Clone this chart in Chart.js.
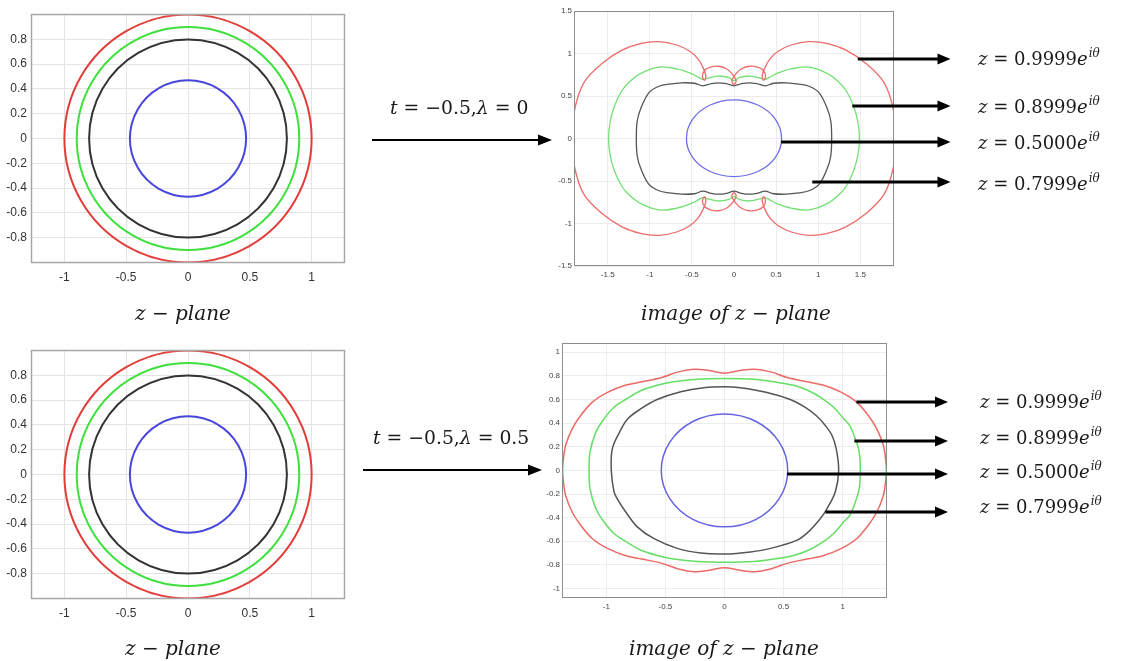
<!DOCTYPE html>
<html>
<head>
<meta charset="utf-8">
<script src="https://cdn.jsdelivr.net/npm/chart.js@4.4.1/dist/chart.umd.min.js"></script>
<style>
  html, body { margin: 0; padding: 0; background: #fff; }
  body { width: 1123px; height: 661px; position: relative; overflow: hidden; color: #1a1a1a; }
  .panel { position: absolute; }
  .panel canvas { display: block; }
  .txt { position: absolute; font-family: "DejaVu Serif", serif; white-space: nowrap; line-height: 1; transform: translateY(-50%); }
  .cap { font-style: italic; font-size: 20px; }
  .eq { font-size: 18px; }
  .eq.mid { font-size: 18.8px; }
  .eq i { font-style: italic; }
  .eq sup { font-size: 12px; font-style: italic; vertical-align: 0; position: relative; top: -8px; margin-left: 1px; }
  svg { position: absolute; left: 0; top: 0; pointer-events: none; }
</style>
</head>
<body>

<div class="panel" style="left:0;top:0;width:346px;height:285px"><canvas id="zPlaneTop"></canvas></div>
<div class="panel" style="left:545px;top:0;width:410px;height:285px"><canvas id="imageTop"></canvas></div>
<div class="panel" style="left:0;top:336px;width:346px;height:285px"><canvas id="zPlaneBottom"></canvas></div>
<div class="panel" style="left:535px;top:336px;width:420px;height:285px"><canvas id="imageBottom"></canvas></div>

<svg width="1123" height="661">
  <line x1="372" y1="140" x2="540" y2="140" stroke="#000" stroke-width="2"/>
  <polygon points="552,140 538,134.5 538,145.5" fill="#000"/>
  <line x1="363" y1="470" x2="530" y2="470" stroke="#000" stroke-width="2"/>
  <polygon points="542,470 528,464.5 528,475.5" fill="#000"/>
</svg>

<!-- parameter labels -->
<div class="txt eq mid" style="left:390px;top:108px"><i>t</i> = −0.5,<i>λ</i> = 0</div>
<div class="txt eq mid" style="left:373px;top:438px"><i>t</i> = −0.5,<i>λ</i> = 0.5</div>

<!-- curve labels, top row -->
<div class="txt eq" style="left:978px;top:59px"><i>z</i> = 0.9999<i>e</i><sup>iθ</sup></div>
<div class="txt eq" style="left:978px;top:107px"><i>z</i> = 0.8999<i>e</i><sup>iθ</sup></div>
<div class="txt eq" style="left:978px;top:143px"><i>z</i> = 0.5000<i>e</i><sup>iθ</sup></div>
<div class="txt eq" style="left:978px;top:184px"><i>z</i> = 0.7999<i>e</i><sup>iθ</sup></div>

<!-- curve labels, bottom row -->
<div class="txt eq" style="left:980px;top:402px"><i>z</i> = 0.9999<i>e</i><sup>iθ</sup></div>
<div class="txt eq" style="left:980px;top:438px"><i>z</i> = 0.8999<i>e</i><sup>iθ</sup></div>
<div class="txt eq" style="left:980px;top:472px"><i>z</i> = 0.5000<i>e</i><sup>iθ</sup></div>
<div class="txt eq" style="left:980px;top:507px"><i>z</i> = 0.7999<i>e</i><sup>iθ</sup></div>

<!-- captions -->
<div class="txt cap" style="left:135px;top:313px">z − plane</div>
<div class="txt cap" style="left:641px;top:313px">image of z − plane</div>
<div class="txt cap" style="left:125px;top:648px">z − plane</div>
<div class="txt cap" style="left:629px;top:648px">image of z − plane</div>

<script>
// ---- data ----

// z-plane circles (same in both rows)
const Z_RED   = [[1,0],[0.866,0.5],[0.5,0.866],[0,1],[-0.5,0.866],[-0.866,0.5],[-1,0],[-0.866,-0.5],[-0.5,-0.866],[0,-1],[0.5,-0.866],[0.866,-0.5]];
const Z_GREEN = [[0.9,0],[0.78,0.45],[0.45,0.78],[0,0.9],[-0.45,0.78],[-0.78,0.45],[-0.9,0],[-0.78,-0.45],[-0.45,-0.78],[0,-0.9],[0.45,-0.78],[0.78,-0.45]];
const Z_BLACK = [[0.8,0],[0.693,0.4],[0.4,0.693],[0,0.8],[-0.4,0.693],[-0.693,0.4],[-0.8,0],[-0.693,-0.4],[-0.4,-0.693],[0,-0.8],[0.4,-0.693],[0.693,-0.4]];
const Z_BLUE  = [[0.47,0],[0.407,0.235],[0.235,0.407],[0,0.47],[-0.235,0.407],[-0.407,0.235],[-0.47,0],[-0.407,-0.235],[-0.235,-0.407],[0,-0.47],[0.235,-0.407],[0.407,-0.235]];

// image curves, t = -0.5, lambda = 0
const W0_RED = [
  [1.92,0],[1.89,0.35],[1.78,0.66],[1.57,0.88],[1.33,1.04],[1.10,1.12],[0.89,1.14],[0.68,1.10],[0.53,1.03],[0.43,0.94],[0.37,0.84],
  [0.335,0.74],[0.35,0.685],[0.375,0.73],[0.35,0.80],[0.28,0.84],[0.18,0.85],[0.09,0.82],[0.03,0.77],
  [-0.025,0.68],[0,0.635],[0.025,0.68],
  [-0.03,0.77],[-0.09,0.82],[-0.18,0.85],[-0.28,0.84],[-0.35,0.80],[-0.375,0.73],[-0.35,0.685],[-0.335,0.74],
  [-0.37,0.84],[-0.43,0.94],[-0.53,1.03],[-0.68,1.10],[-0.89,1.14],[-1.10,1.12],[-1.33,1.04],[-1.57,0.88],[-1.78,0.66],[-1.89,0.35],
  [-1.92,0],
  [-1.89,-0.35],[-1.78,-0.66],[-1.57,-0.88],[-1.33,-1.04],[-1.10,-1.12],[-0.89,-1.14],[-0.68,-1.10],[-0.53,-1.03],[-0.43,-0.94],[-0.37,-0.84],
  [-0.335,-0.74],[-0.35,-0.685],[-0.375,-0.73],[-0.35,-0.80],[-0.28,-0.84],[-0.18,-0.85],[-0.09,-0.82],[-0.03,-0.77],
  [0.025,-0.68],[0,-0.635],[-0.025,-0.68],
  [0.03,-0.77],[0.09,-0.82],[0.18,-0.85],[0.28,-0.84],[0.35,-0.80],[0.375,-0.73],[0.35,-0.685],[0.335,-0.74],
  [0.37,-0.84],[0.43,-0.94],[0.53,-1.03],[0.68,-1.10],[0.89,-1.14],[1.10,-1.12],[1.33,-1.04],[1.57,-0.88],[1.78,-0.66],[1.89,-0.35]
];
const W0_GREEN = [
  [1.49,0],[1.47,0.2],[1.42,0.38],[1.34,0.55],[1.25,0.66],[1.10,0.77],[0.89,0.84],[0.68,0.82],[0.52,0.77],[0.42,0.72],
  [0.37,0.695],[0.31,0.71],[0.18,0.735],[0.06,0.715],[0,0.68],[-0.06,0.715],[-0.18,0.735],[-0.31,0.71],[-0.37,0.695],
  [-0.42,0.72],[-0.52,0.77],[-0.68,0.82],[-0.89,0.84],[-1.10,0.77],[-1.25,0.66],[-1.34,0.55],[-1.42,0.38],[-1.47,0.2],
  [-1.49,0],
  [-1.47,-0.2],[-1.42,-0.38],[-1.34,-0.55],[-1.25,-0.66],[-1.10,-0.77],[-0.89,-0.84],[-0.68,-0.82],[-0.52,-0.77],[-0.42,-0.72],
  [-0.37,-0.695],[-0.31,-0.71],[-0.18,-0.735],[-0.06,-0.715],[0,-0.68],[0.06,-0.715],[0.18,-0.735],[0.31,-0.71],[0.37,-0.695],
  [0.42,-0.72],[0.52,-0.77],[0.68,-0.82],[0.89,-0.84],[1.10,-0.77],[1.25,-0.66],[1.34,-0.55],[1.42,-0.38],[1.47,-0.2]
];
const W0_BLACK = [
  [1.16,0],[1.15,0.2],[1.11,0.345],[1.01,0.54],[0.89,0.615],[0.77,0.64],[0.62,0.655],[0.47,0.65],[0.37,0.62],[0.27,0.645],[0.18,0.655],[0.09,0.645],
  [0,0.62],
  [-0.09,0.645],[-0.18,0.655],[-0.27,0.645],[-0.37,0.62],[-0.47,0.65],[-0.62,0.655],[-0.77,0.64],[-0.89,0.615],[-1.01,0.54],[-1.11,0.345],[-1.15,0.2],
  [-1.16,0],
  [-1.15,-0.2],[-1.11,-0.345],[-1.01,-0.54],[-0.89,-0.615],[-0.77,-0.64],[-0.62,-0.655],[-0.47,-0.65],[-0.37,-0.62],[-0.27,-0.645],[-0.18,-0.655],[-0.09,-0.645],
  [0,-0.62],
  [0.09,-0.645],[0.18,-0.655],[0.27,-0.645],[0.37,-0.62],[0.47,-0.65],[0.62,-0.655],[0.77,-0.64],[0.89,-0.615],[1.01,-0.54],[1.11,-0.345],[1.15,-0.2]
];
const W0_BLUE = [[0.565,0],[0.49,0.228],[0.283,0.394],[0,0.455],[-0.283,0.394],[-0.49,0.228],[-0.565,0],[-0.49,-0.224],[-0.283,-0.388],[0,-0.448],[0.283,-0.388],[0.49,-0.224]];

// image curves, t = -0.5, lambda = 0.5
const W5_RED = [
  [1.37,0],[1.36,0.12],[1.345,0.21],[1.29,0.35],[1.22,0.46],[1.12,0.576],[0.99,0.66],[0.84,0.72],[0.70,0.75],[0.53,0.787],[0.39,0.834],[0.25,0.857],[0.13,0.845],
  [0,0.823],
  [-0.13,0.845],[-0.25,0.857],[-0.39,0.834],[-0.53,0.787],[-0.70,0.75],[-0.84,0.72],[-0.99,0.66],[-1.12,0.576],[-1.22,0.46],[-1.29,0.35],[-1.345,0.21],[-1.36,0.12],
  [-1.37,0],
  [-1.36,-0.12],[-1.345,-0.21],[-1.29,-0.35],[-1.22,-0.46],[-1.12,-0.576],[-0.99,-0.66],[-0.84,-0.72],[-0.70,-0.75],[-0.53,-0.787],[-0.39,-0.834],[-0.25,-0.857],[-0.13,-0.845],
  [0,-0.823],
  [0.13,-0.845],[0.25,-0.857],[0.39,-0.834],[0.53,-0.787],[0.70,-0.75],[0.84,-0.72],[0.99,-0.66],[1.12,-0.576],[1.22,-0.46],[1.29,-0.35],[1.345,-0.21],[1.36,-0.12]
];
const W5_GREEN = [
  [1.149,0],[1.14,0.155],[1.107,0.267],[1.06,0.38],[1.01,0.435],[0.924,0.534],[0.84,0.60],[0.713,0.674],[0.586,0.72],[0.417,0.75],[0.248,0.772],
  [0,0.778],
  [-0.23,0.772],[-0.43,0.75],[-0.57,0.72],[-0.71,0.674],[-0.837,0.60],[-0.935,0.534],[-1.02,0.435],[-1.09,0.32],[-1.138,0.155],
  [-1.146,0],
  [-1.138,-0.155],[-1.09,-0.32],[-1.02,-0.435],[-0.935,-0.534],[-0.837,-0.60],[-0.71,-0.674],[-0.57,-0.72],[-0.43,-0.75],[-0.23,-0.772],
  [0,-0.778],
  [0.248,-0.772],[0.417,-0.75],[0.586,-0.72],[0.713,-0.674],[0.84,-0.60],[0.924,-0.534],[1.01,-0.435],[1.06,-0.38],[1.107,-0.267],[1.14,-0.155]
];
const W5_BLACK = [
  [0.966,0],[0.946,0.18],[0.91,0.295],[0.853,0.38],[0.78,0.46],[0.684,0.534],[0.557,0.60],[0.36,0.66],[0.135,0.70],
  [0,0.708],
  [-0.175,0.70],[-0.37,0.666],[-0.57,0.60],[-0.71,0.52],[-0.82,0.435],[-0.89,0.32],[-0.95,0.18],
  [-0.958,0],
  [-0.935,-0.18],[-0.907,-0.24],[-0.837,-0.35],[-0.738,-0.478],[-0.6,-0.576],[-0.4,-0.66],[-0.2,-0.70],
  [0,-0.708],
  [0.22,-0.69],[0.39,-0.66],[0.614,-0.59],[0.71,-0.52],[0.81,-0.41],[0.868,-0.323],[0.938,-0.18]
];
const W5_BLUE = [[0.535,0],[0.463,0.239],[0.268,0.414],[0,0.478],[-0.268,0.414],[-0.463,0.239],[-0.535,0],[-0.463,-0.239],[-0.268,-0.414],[0,-0.478],[0.268,-0.414],[0.463,-0.239]];

// tick labels
const Z_X_TICKS = [-1, -0.5, 0, 0.5, 1];
const Z_Y_TICKS = [-0.8, -0.6, -0.4, -0.2, 0, 0.2, 0.4, 0.6, 0.8];
const W0_X_TICKS = [-1.5, -1, -0.5, 0, 0.5, 1, 1.5];
const W0_Y_TICKS = [-1.5, -1, -0.5, 0, 0.5, 1, 1.5];
const W5_X_TICKS = [-1, -0.5, 0, 0.5, 1];
const W5_Y_TICKS = [-1, -0.8, -0.6, -0.4, -0.2, 0, 0.2, 0.4, 0.6, 0.8, 1];

// where the label arrows leave each image curve (red, green, blue, black)
const W0_ARROW_FROM = [[1.47, 0.94], [1.405, 0.385], [0.56, -0.036], [0.93, -0.508]];
const W5_ARROW_FROM = [[1.116, 0.575], [1.099, 0.25], [0.53, -0.028], [0.854, -0.351]];

// ---- plugins ----
const framePlugin = {
  id: 'frame',
  afterDatasetsDraw(chart, args, opts) {
    const { ctx, chartArea: a } = chart;
    ctx.save();
    ctx.strokeStyle = opts.color || '#999';
    ctx.lineWidth = opts.width || 1;
    const l = Math.round(a.left) + 0.5, t = Math.round(a.top) + 0.5;
    ctx.strokeRect(l, t, Math.round(a.right) - Math.round(a.left) - 1, Math.round(a.bottom) - Math.round(a.top) - 1);
    ctx.restore();
  }
};

const arrowPlugin = {
  id: 'arrows',
  afterDraw(chart, args, opts) {
    if (!opts.from) return;
    const { ctx, scales: { x, y } } = chart;
    const tip = chart.chartArea.right + opts.reach;
    ctx.save();
    ctx.strokeStyle = '#000';
    ctx.fillStyle = '#000';
    ctx.lineWidth = 3;
    opts.from.forEach(([ax, ay]) => {
      const px = x.getPixelForValue(ax);
      const py = Math.round(y.getPixelForValue(ay));
      ctx.beginPath();
      ctx.moveTo(px, py);
      ctx.lineTo(tip - 12, py);
      ctx.stroke();
      ctx.beginPath();
      ctx.moveTo(tip, py);
      ctx.lineTo(tip - 13, py - 5.5);
      ctx.lineTo(tip - 13, py + 5.5);
      ctx.closePath();
      ctx.fill();
    });
    ctx.restore();
  }
};

// closed curve: wrap one point each side so the spline joins smoothly, hide the wrap segments
function loopData(pts) {
  const n = pts.length;
  return [pts[n - 1], ...pts, pts[0], pts[1]].map(([x, y]) => ({ x, y }));
}

function curve(pts, color, width) {
  const last = pts.length + 2;
  return {
    data: loopData(pts),
    showLine: true,
    borderColor: color,
    borderWidth: width,
    pointRadius: 0,
    tension: 0.35,
    segment: {
      borderColor: c => (c.p0DataIndex === 0 || c.p1DataIndex === last) ? 'rgba(0,0,0,0)' : undefined
    }
  };
}

function axis(min, max, ticks, fit, isX, look) {
  return {
    type: 'linear',
    min, max,
    bounds: 'data',
    afterBuildTicks: a => { a.ticks = ticks.map(v => ({ value: v })); },
    afterFit: a => { if (isX) a.height = fit; else a.width = fit; },
    grid: { color: look.grid, lineWidth: 1, drawTicks: false },
    border: { display: false },
    ticks: {
      autoSkip: false,
      maxRotation: 0,
      padding: isX ? look.xPad : look.yPad,
      color: look.tick,
      font: { family: 'Liberation Sans, Arial, sans-serif', size: look.size },
      callback: v => String(v)
    }
  };
}

function render(id, cfg) {
  const el = document.getElementById(id);
  if (!el || typeof Chart === 'undefined') return;
  new Chart(el, {
    type: 'scatter',
    data: { datasets: cfg.curves.map(([pts, color]) => curve(pts, color, cfg.lw)) },
    options: {
      responsive: true,
      maintainAspectRatio: false,
      animation: false,
      events: [],
      layout: { padding: { top: cfg.padTop, right: cfg.padRight, left: 0, bottom: 0 } },
      plugins: {
        legend: { display: false },
        tooltip: { enabled: false },
        frame: { color: cfg.look.frame, width: cfg.look.frameW },
        arrows: { from: cfg.arrows, reach: cfg.reach }
      },
      scales: {
        x: axis(cfg.x[0], cfg.x[1], cfg.xTicks, cfg.xAxisH, true, cfg.look),
        y: axis(cfg.y[0], cfg.y[1], cfg.yTicks, cfg.yAxisW, false, cfg.look)
      }
    },
    plugins: [framePlugin, arrowPlugin]
  });
}

const LOOK_Z = { grid: '#e4e4e4', tick: '#333', size: 12, xPad: 7, yPad: 4, frame: '#a6a6a6', frameW: 1.5 };
const LOOK_W = { grid: '#ececec', tick: '#444', size: 8, xPad: 4, yPad: 2, frame: '#8c8c8c', frameW: 1 };

const zCurves = [[Z_RED, '#e23c38'], [Z_GREEN, '#3ee03e'], [Z_BLACK, '#333333'], [Z_BLUE, '#4646dc']];

render('zPlaneTop', {
  curves: zCurves, lw: 2, look: LOOK_Z,
  x: [-1.27, 1.27], y: [-1.005, 1.005], xTicks: Z_X_TICKS, yTicks: Z_Y_TICKS,
  padTop: 14, padRight: 1, xAxisH: 22, yAxisW: 31
});
render('zPlaneBottom', {
  curves: zCurves, lw: 2, look: LOOK_Z,
  x: [-1.27, 1.27], y: [-1.005, 1.005], xTicks: Z_X_TICKS, yTicks: Z_Y_TICKS,
  padTop: 14, padRight: 1, xAxisH: 22, yAxisW: 31
});
render('imageTop', {
  curves: [[W0_RED, '#ec6c6a'], [W0_GREEN, '#72e072'], [W0_BLACK, '#555555'], [W0_BLUE, '#6e6ee6']],
  lw: 1.3, look: LOOK_W,
  x: [-1.9, 1.9], y: [-1.5, 1.5], xTicks: W0_X_TICKS, yTicks: W0_Y_TICKS,
  padTop: 11, padRight: 61, xAxisH: 19, yAxisW: 29,
  arrows: W0_ARROW_FROM, reach: 56.5
});
render('imageBottom', {
  curves: [[W5_RED, '#ec6a66'], [W5_GREEN, '#64de64'], [W5_BLACK, '#555555'], [W5_BLUE, '#6464e2']],
  lw: 1.5, look: LOOK_W,
  x: [-1.375, 1.375], y: [-1.08, 1.08], xTicks: W5_X_TICKS, yTicks: W5_Y_TICKS,
  padTop: 5, padRight: 68, xAxisH: 23, yAxisW: 27,
  arrows: W5_ARROW_FROM, reach: 61
});
</script>
</body>
</html>
